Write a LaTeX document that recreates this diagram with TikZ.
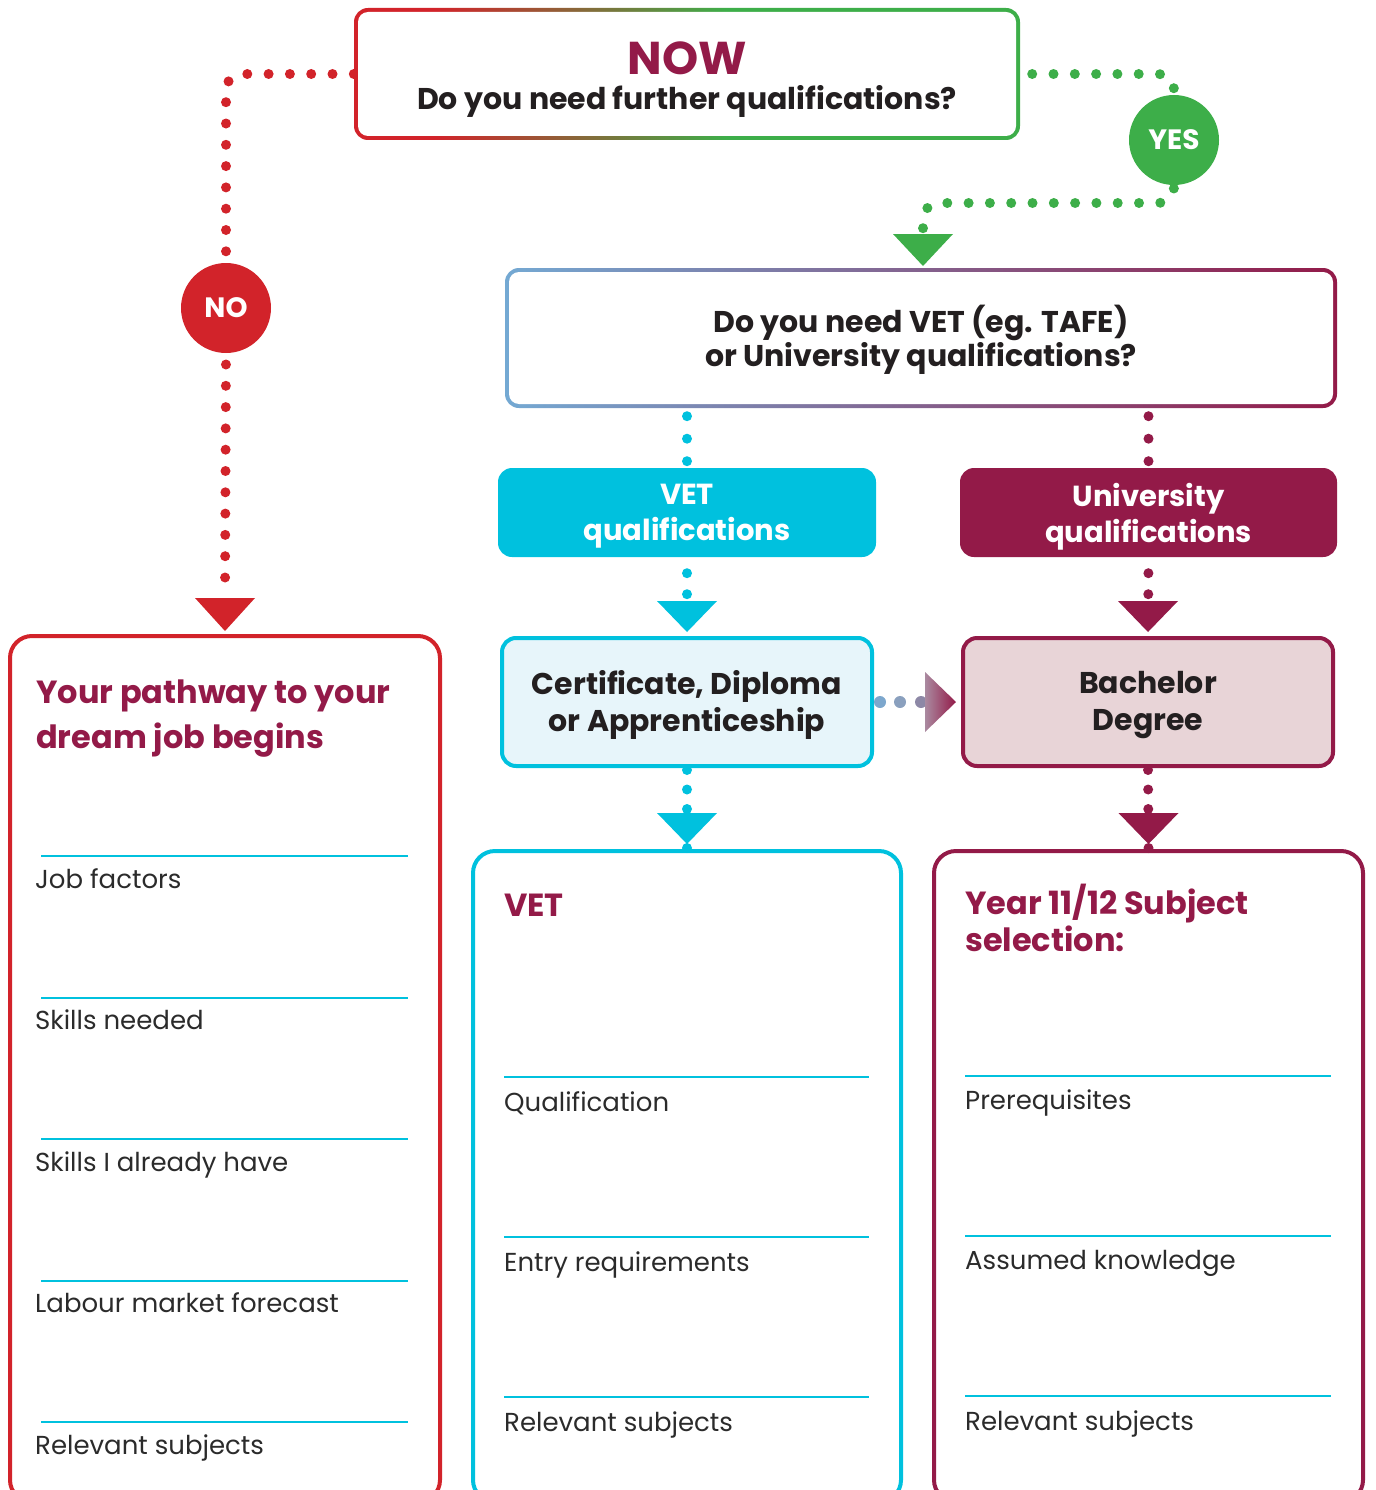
\documentclass[tikz,border=0pt]{standalone}
\usepackage{fontspec}
\setmainfont{Poppins}
\usetikzlibrary{calc,backgrounds}
\definecolor{cred}{HTML}{D2232A}
\definecolor{cgreen}{HTML}{3DAE49}
\definecolor{cmaroon}{HTML}{931A48}
\definecolor{ccyan}{HTML}{00C1DE}
\definecolor{cblue}{HTML}{74A9D3}
\definecolor{clcyan}{HTML}{E7F5FA}
\definecolor{cpink}{HTML}{E8D4D7}
\definecolor{ctext}{HTML}{231F20}
\definecolor{cgrey}{HTML}{2B2B2B}
\definecolor{dotA}{HTML}{7DA7CD}
\definecolor{dotB}{HTML}{8AA0BE}
\definecolor{dotC}{HTML}{8D88A6}
\definecolor{trileft}{HTML}{AA8AA0}
\pgfdeclarehorizontalshading{nowgrad}{100bp}{color(0bp)=(cred); color(31bp)=(cred); color(53bp)=(cgreen); color(100bp)=(cgreen)}
\begin{document}
\begin{tikzpicture}[x=1pt,y=-1pt,
  dots/.style={line width=10pt, line cap=round, dash pattern=on 0pt off 21.3pt},
  qtxt/.style={font=\fontsize{30}{34}\selectfont\bfseries, text=ctext, align=center, inner sep=0pt},
  solidbox/.style={rounded corners=14pt, inner sep=0pt, minimum height=89pt},
  solidtxt/.style={align=center, inner sep=0pt, text=white, font=\fontsize{29}{36}\selectfont\bfseries},
  midbox/.style={line width=4pt, rounded corners=14pt, inner sep=0pt, minimum width=370pt, minimum height=128pt},
  midtxt/.style={align=center, inner sep=0pt, text=ctext, font=\fontsize{30}{37}\selectfont\bfseries},
  bigbox/.style={line width=4pt, rounded corners=22pt, inner sep=0pt},
  circ/.style={circle, minimum size=90pt, inner sep=0pt, text=white, font=\fontsize{28}{28}\selectfont\bfseries},
  hd/.style={anchor=base west, inner sep=0pt, text=cmaroon, font=\fontsize{32}{32}\selectfont\bfseries},
  lbl/.style={anchor=base west, inner sep=0pt, text=cgrey, font=\fontsize{26}{26}\selectfont},
  rule/.style={ccyan, line width=1.5pt}
]
\useasboundingbox (0,0) rectangle (1375,1490);
\clip (0,0) rectangle (1375,1490);

% ---- top box
\shade[shading=nowgrad, rounded corners=14pt] (354,8) rectangle (1020,140);
\fill[white, rounded corners=10pt] (358,12) rectangle (1016,136);
\node[minimum width=666pt, minimum height=132pt, inner sep=0pt] (now) at (687,74) {};
\node[anchor=base, inner sep=0pt, text=cmaroon, font=\fontsize{46}{46}\selectfont\bfseries] (nowt) at (687,75) {NOW};
\node[qtxt, anchor=base] (nowq) at (687,110) {Do you need further qualifications?};

% ---- circles
\node[circ, fill=cred] (no) at (226,308) {NO};
\node[circ, fill=cgreen] (yes) at (1174,140) {YES};

% ---- second box
\shade[left color=cblue, right color=cmaroon, rounded corners=14pt] (505,268) rectangle (1337,408);
\fill[white, rounded corners=10pt] (509,272) rectangle (1333,404);
\node[minimum width=832pt, minimum height=140pt, inner sep=0pt] (qbox) at (921,338) {};
\node[qtxt] (qboxt) at ($(qbox)+(0,2)$) {Do you need VET (eg. TAFE)\\or University qualifications?};
\coordinate (ytip) at (923,268);

% ---- qualification boxes
\node[solidbox, fill=ccyan, minimum width=378pt] (vetq) at (687,512.5) {};
\node[solidtxt] (vetqt) at ($(vetq)+(0,4)$) {VET\\qualifications};
\node[solidbox, fill=cmaroon, minimum width=377pt] (uniq) at (1148.5,512.5) {};
\node[solidtxt] (uniqt) at ($(uniq)+(0,4)$) {University\\qualifications};

\node[midbox, draw=ccyan, fill=clcyan] (cert) at (687,702) {};
\node[midtxt] (certt) at ($(cert)+(0,3)$) {Certificate, Diploma\\or Apprenticeship};
\node[midbox, draw=cmaroon, fill=cpink] (bach) at (1148,702) {};
\node[midtxt] (bacht) at ($(bach)+(0,3)$) {Bachelor\\Degree};

% ---- bottom boxes
\node[bigbox, draw=cred, minimum width=430pt, minimum height=866pt] (pathbox) at (225,1069) {};
\node[bigbox, draw=ccyan, minimum width=428pt, minimum height=651pt] (vetbox) at (687,1176.5) {};
\node[bigbox, draw=cmaroon, minimum width=429pt, minimum height=651pt] (unibox) at (1148.5,1176.5) {};

% ---- connectors (behind)
\begin{pgfonlayer}{background}
\draw[dots, cred, rounded corners=16pt] (now.west) -| (no.north);
\draw[dots, cred, dash phase=10pt] (no.south) -- ($(pathbox.north)+(0,-40)$);
\draw[dots, cgreen, rounded corners=16pt, dash phase=9.3pt] (now.east) -| (yes.north);
\draw[dots, cgreen, rounded corners=16pt, dash phase=18pt] (yes.south) |- ($(ytip)+(0,-65)$) -- ($(ytip)+(0,-34)$);
\draw[dots, ccyan, dash pattern=on 0pt off 22.5pt, dash phase=14.5pt] (qbox.south -| vetq.north) -- (vetq.north);
\draw[dots, cmaroon, dash pattern=on 0pt off 22.5pt, dash phase=14.5pt] (qbox.south -| uniq.north) -- (uniq.north);
\draw[dots, ccyan, dash pattern=on 0pt off 21pt, dash phase=5pt] (vetq.south) -- (cert.north);
\draw[dots, cmaroon, dash pattern=on 0pt off 21pt, dash phase=5pt] (uniq.south) -- (bach.north);
\draw[dots, ccyan, dash pattern=on 0pt off 19.5pt, dash phase=17.5pt] (cert.south) -- (vetbox.north);
\draw[dots, cmaroon, dash pattern=on 0pt off 19.5pt, dash phase=17.5pt] (bach.south) -- (unibox.north);
\end{pgfonlayer}

% ---- arrow heads
\fill[cred] ($(pathbox.north)+(-30,-36)$) -- ++(60,0) -- ($(pathbox.north)+(0,-3)$) -- cycle;
\fill[cgreen] ($(ytip)+(-30,-34)$) -- ++(60,0) -- ($(ytip)+(0,-2)$) -- cycle;
\fill[ccyan] ($(cert.north)+(-30,-35)$) -- ++(60,0) -- ($(cert.north)+(0,-4)$) -- cycle;
\fill[cmaroon] ($(bach.north)+(-30,-35)$) -- ++(60,0) -- ($(bach.north)+(0,-4)$) -- cycle;
\fill[ccyan] ($(vetbox.north)+(-30,-36)$) -- ++(60,0) -- ($(vetbox.north)+(0,-5)$) -- cycle;
\fill[cmaroon] ($(unibox.north)+(-30,-36)$) -- ++(60,0) -- ($(unibox.north)+(0,-5)$) -- cycle;

% ---- horizontal connector cert -> bachelor
\fill[dotA] ($(cert.east)+(6,0)$) circle (6pt);
\fill[dotB] ($(cert.east)+(26,0)$) circle (6pt);
\fill[dotC] ($(cert.east)+(47,0)$) circle (6pt);
\shade[left color=trileft, right color=cmaroon] ($(bach.west)+(-36,-30)$) -- ($(bach.west)+(-5,0)$) -- ($(bach.west)+(-36,30)$) -- cycle;

% ---- left box content
\node[hd] (p1) at (36,703) {Your pathway to your};
\node[hd] (p2) at (36,748) {dream job begins};
\foreach \y in {856,998,1139,1281,1422} \draw[rule] (41,\y) -- (408,\y);
\node[lbl] (l1) at (35,888) {Job factors};
\node[lbl] (l2) at (35,1029) {Skills needed};
\node[lbl] (l3) at (35,1171) {Skills I already have};
\node[lbl] (l4) at (35,1312) {Labour market forecast};
\node[lbl] (l5) at (35,1454) {Relevant subjects};

% ---- middle box content
\node[hd] (v1) at (504,916) {VET};
\foreach \y in {1077,1237,1397} \draw[rule] (504,\y) -- (869,\y);
\node[lbl] (m1) at (504,1111) {Qualification};
\node[lbl] (m2) at (504,1271) {Entry requirements};
\node[lbl] (m3) at (504,1431) {Relevant subjects};

% ---- right box content
\node[hd] (u1) at (965,914) {Year 11/12 Subject};
\node[hd] (u2) at (965,951) {selection:};
\foreach \y in {1076,1236,1396} \draw[rule] (965,\y) -- (1331,\y);
\node[lbl] (r1) at (965,1109) {Prerequisites};
\node[lbl] (r2) at (965,1269) {Assumed knowledge};
\node[lbl] (r3) at (965,1430) {Relevant subjects};
\end{tikzpicture}
\end{document}
